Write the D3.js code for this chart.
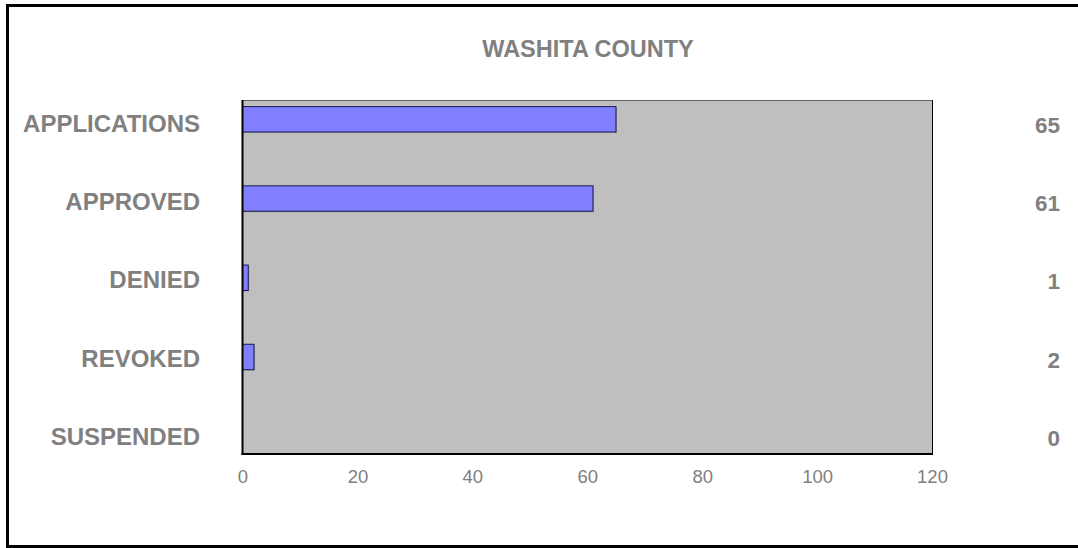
<!DOCTYPE html>
<html>
<head>
<meta charset="utf-8">
<script src="https://cdn.jsdelivr.net/npm/d3@7"></script>
<style>
  html, body { margin: 0; padding: 0; background: #fff; }
  svg { display: block; font-family: "Liberation Sans", Arial, sans-serif; }
</style>
</head>
<body>
<svg id="chart" width="1078" height="548"></svg>
<script>
const title = "WASHITA COUNTY";
const categories = ["APPLICATIONS", "APPROVED", "DENIED", "REVOKED", "SUSPENDED"];
const values = [65, 61, 1, 2, 0];
const xTicks = [0, 20, 40, 60, 80, 100, 120];
const xDomain = [0, 120];

const svg = d3.select("#chart");

// outer frame
svg.append("rect")
  .attr("x", 7.5).attr("y", 5.5)
  .attr("width", 1080).attr("height", 541)
  .attr("fill", "#fff").attr("stroke", "#000").attr("stroke-width", 3);

const plot = { left: 242.5, right: 932, top: 100, bottom: 454 };

const x = d3.scaleLinear().domain(xDomain).range([plot.left, plot.right]);
const yBar = d3.scalePoint().domain(categories).range([119.3, 436.2]);
const yLab = d3.scalePoint().domain(categories).range([123.5, 436.2]);
const barH = 25.4;
const rows = categories.map((c, i) => ({ c, v: values[i] }));

// plot background
svg.append("rect")
  .attr("x", plot.left).attr("y", plot.top)
  .attr("width", plot.right - plot.left).attr("height", plot.bottom - plot.top)
  .attr("fill", "#bfbfbf").attr("stroke", "none");
svg.append("line").attr("x1", plot.left).attr("x2", plot.right).attr("y1", plot.top + 0.5).attr("y2", plot.top + 0.5)
  .attr("stroke", "#666").attr("stroke-width", 1);
svg.append("line").attr("x1", plot.right + 0.5).attr("x2", plot.right + 0.5).attr("y1", plot.top).attr("y2", plot.bottom)
  .attr("stroke", "#000").attr("stroke-width", 1);

// bars with subtle shadow
const bars = svg.append("g");
bars.selectAll("rect.shadow").data(rows.filter(d => d.v > 0)).join("rect")
  .attr("class", "shadow")
  .attr("x", x(0) + 1)
  .attr("y", d => yBar(d.c) - barH / 2 + 1)
  .attr("width", d => x(d.v) - x(0))
  .attr("height", barH)
  .attr("fill", "#777").attr("opacity", 0.5);
bars.selectAll("rect.bar").data(rows.filter(d => d.v > 0)).join("rect")
  .attr("class", "bar")
  .attr("x", x(0))
  .attr("y", d => yBar(d.c) - barH / 2)
  .attr("width", d => x(d.v) - x(0))
  .attr("height", barH)
  .attr("fill", "#7f7fff")
  .attr("stroke", "#1a1a4d")
  .attr("stroke-width", 1);

// axes lines
svg.append("line").attr("x1", plot.left).attr("x2", plot.left).attr("y1", plot.top).attr("y2", plot.bottom + 1)
  .attr("stroke", "#000").attr("stroke-width", 2);
svg.append("line").attr("x1", plot.left - 1).attr("x2", plot.right + 1).attr("y1", plot.bottom).attr("y2", plot.bottom)
  .attr("stroke", "#000").attr("stroke-width", 2);

// x axis tick labels
const xAxis = d3.axisBottom(x).tickValues(xTicks).tickSize(0).tickPadding(16);
const gx = svg.append("g").attr("transform", `translate(0,${plot.bottom})`).call(xAxis);
gx.select(".domain").remove();
gx.selectAll("text")
  .attr("font-family", "'Liberation Sans', Arial, sans-serif")
  .attr("font-size", 18.5).attr("fill", "#7f7f7f");

// category labels
svg.append("g").selectAll("text").data(categories).join("text")
  .attr("x", 200).attr("y", d => yLab(d))
  .attr("text-anchor", "end").attr("dominant-baseline", "central")
  .attr("font-size", 24).attr("font-weight", "bold").attr("fill", "#808080")
  .text(d => d);

// value labels
svg.append("g").selectAll("text").data(rows).join("text")
  .attr("x", 1060).attr("y", d => yLab(d.c) + 2)
  .attr("text-anchor", "end").attr("dominant-baseline", "central")
  .attr("font-size", 22.5).attr("font-weight", "bold").attr("fill", "#808080")
  .text(d => d.v);

// title
svg.append("text")
  .attr("x", 588).attr("y", 48.5)
  .attr("text-anchor", "middle").attr("dominant-baseline", "central")
  .attr("font-size", 23.5).attr("font-weight", "bold").attr("fill", "#808080")
  .text(title);
</script>
</body>
</html>
